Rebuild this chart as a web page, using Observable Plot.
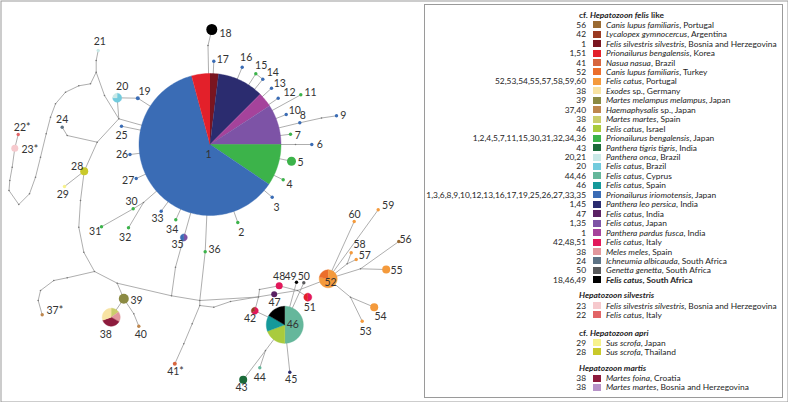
<!DOCTYPE html>
<html><head><meta charset="utf-8">
<script src="https://cdn.jsdelivr.net/npm/d3@7"></script>
<script src="https://cdn.jsdelivr.net/npm/@observablehq/plot@0.6"></script>
<style>
body{margin:0;background:#fff;}
#wrap{position:relative;width:788px;height:402px;font-family:Lato,"Open Sans",sans-serif;}
#legend{position:absolute;left:424px;top:4px;width:359px;height:394px;border:1px solid #9a9a9a;box-sizing:border-box;font-size:8.4px;color:#1e1e1e;background:#fff;}
.t{position:absolute;white-space:nowrap;line-height:10px;height:10px;}
.sw{position:absolute;width:8px;height:7px;}
</style></head>
<body><div id="wrap"><div id="chart"></div><div id="legend"></div></div>
<script>
// ---- legend / host data ----
const legendNums = ["56","42","1","1,51","41","52","52,53,54,55,57,58,59,60","38","39","37,40","38","46","1,2,4,5,7,11,15,30,31,32,34,36","43","20,21","20","44,46","46","1,3,6,8,9,10,12,13,16,17,19,25,26,27,33,35","1,45","47","1,35","1","42,48,51","38","24","50","18,46,49","23","22","29","28","38","38"];
const legendSpecies = ["Canis lupus familiaris","Lycalopex gymnocercus","Felis silvestris silvestris","Prionailurus bengalensis","Nasua nasua","Canis lupus familiaris","Felis catus","Exodes","Martes melampus melampus","Haemaphysalis","Martes martes","Felis catus","Prionailurus bengalensis","Panthera tigris tigris","Panthera onca","Felis catus","Felis catus","Felis catus","Prionailurus iriomotensis","Panthera leo persica","Felis catus","Felis catus","Panthera pardus fusca","Felis catus","Meles meles","Ichneumia albicauda","Genetta genetta","Felis catus","Felis silvestris silvestris","Felis catus","Sus scrofa","Sus scrofa","Martes foina","Martes martes"];
const legendPlace = [", Portugal",", Argentina",", Bosnia and Herzegovina",", Korea",", Brazil",", Turkey",", Portugal"," sp., Germany",", Japan"," sp., Japan",", Spain",", Israel",", Japan",", India",", Brazil",", Brazil",", Cyprus",", Spain",", Japan",", India",", India",", Japan",", India",", Italy",", Spain",", South Africa",", South Africa",", South Africa",", Bosnia and Herzegovina",", Italy",", Japan",", Thailand",", Croatia",", Bosnia and Herzegovina"];
const hostColors = ["#9A6A32","#9A3A22","#7A1520","#E3202A","#D7653D","#EB6E2B","#F49A3C","#F8E3A3","#8B8A43","#BE874E","#CACD6B","#A9CB3D","#3CB34A","#1C6B3A","#C9E9E7","#72CBDD","#65B79B","#15999A","#3A6CB5","#2B2C6F","#5A2163","#7D53A6","#A5439B","#E2185B","#E2979C","#5E7385","#58595B","#000000","#F6C9CD","#E26466","#F7F28C","#C9C92B","#8D1B3D","#B793C9"];
const sectionTitles = [["cf. ","Hepatozoon felis"," like"],["","Hepatozoon silvestris",""],["cf. ","Hepatozoon apri",""],["","Hepatozoon martis",""]];
const boldRows = [27];

// ---- haplotype network data ----
const hapIds   = ["2","3","4","5","6","7","8","9","10","11","12","13","14","15","16","17","18","19","21","22","23","24","25","26","27","28","29","30","31","32","33","34","36","37","39","40","41","43","44","45","47","48","49","50","53","54","55","56","57","58","59","60"];
const hapX     = [237.3,271.7,282.7,291,311.3,290,299.3,336,285.7,300.3,277.7,271,262.3,255.3,241.7,213.3,211.3,137.3,97.7,17.7,14.3,61.7,121,129.5,135.7,83.7,64,132.7,101,128,160.7,175.3,204.7,41.7,123.3,138.3,174.3,242.7,259.3,289.3,273.7,278.7,296,303.3,361.7,373.7,385.7,398.3,355.7,350.7,377.7,353.7];
const hapY     = [222,196.7,179.3,160.7,144,133.7,122.3,115.3,114,94.3,97.7,87.7,78.7,73.3,66.7,60.7,29,97.7,50,134,147.7,126.7,125.7,154,178,170.7,186,208.3,226.3,227.3,210.7,219.3,251.3,314.3,298.3,325.7,363.3,379.3,367.3,371.7,293.7,285.3,281.7,282.3,320.7,306.7,269,241,259,252.3,209.3,221];
const hapSize  = [1.7,1.7,1.7,4.5,1.7,1.7,1.7,1.7,1.7,1.7,1.7,1.7,1.7,1.7,1.7,1.7,5.5,2,1.7,1.7,3.5,1.7,1.7,1.7,1.7,4,1.7,1.7,1.7,1.7,1.7,1.7,1.7,1.7,5,1.7,2,4,1.7,1.7,3,3.5,1.7,1.7,1.7,4,4,1.7,1.7,1.7,1.7,1.7];
const hapHost  = [12,18,12,12,18,12,18,18,18,12,18,18,18,12,18,18,27,18,14,29,28,25,18,18,18,31,30,12,12,12,18,12,12,9,8,9,4,13,16,19,20,23,27,26,6,6,6,0,6,6,6,6];

// mixed haplotypes drawn as pies
const pieIds   = ["1","46","52","38","20","35","42","51"];
const pieX     = [209.5,284.3,327.7,110.7,116.7,183.3,254.3,307.3];
const pieY     = [144,324.3,278.3,316.7,97.3,237,310.3,296.7];
const pieSize  = [71,18.5,9,9,4.5,3.5,3.5,4];
const pieHosts = [[2,19,22,21,12,18,3],[16,11,17,27],[6,5],[10,24,32,7],[15,14],[21,18],[23,1],[23,3]];
const pieShares= [[7,38,12,33,34,221,15],[180,70,50,60],[280,80],[55,65,130,110],[3,1],[1,1],[2,1],[1,1]];

// median vectors / inferred vertices
const medIds = ["m18","m9","m6","J1","c1","J4","J5","c2","a1","a2","a3","a4","a5","a6","a7","a8","V","b3","b2","b1","J2","d1","e1","e2","e3","J6","f1","f2","f3","f4","g1","h1","g2","i1","g3","B1","k1","k2","k3","l1","l2","m30","n1","J7","o1","q1","J10","J11"];
const medX = [207.5,321,295,118.3,104,95.7,90,95.7,78.3,65,55,50,45.7,40,35,29,18.3,8.5,9.3,11.7,96.7,66.7,80,78.3,83.3,94,66.7,53.3,40,37.7,116.7,133.3,171,175,199.3,258,199.3,213.3,230,191.7,183.3,143,259,297,265,346.7,360,350];
const medY = [45,117.5,144,118.3,95,71.7,83.3,60,85.3,91.7,103.3,116.7,133.3,156.7,176.7,193.3,204,190,180,166.7,141.7,135,200,226.7,251.7,271,277.3,280,290,300,282.7,313.3,295.3,266.7,300,296.5,305,306.7,301,323.3,343.3,202,289,290,350,263.3,268.3,296.7];

const edges = [["1","m18"],["m18","18"],["1","17"],["1","16"],["1","15"],["15","14"],["1","14"],["1","13"],["1","12"],["1","11"],["1","10"],["1","8"],["8","m9"],["m9","9"],["1","7"],["1","m6"],["m6","6"],["1","5"],["1","4"],["1","3"],["1","2"],
["1","19"],["19","20"],["20","J1"],["J1","1"],["1","25"],["1","26"],["1","27"],
["1","m30"],["m30","30"],["30","31"],["m30","32"],["1","33"],["1","34"],
["1","35"],["35","i1"],["i1","g2"],["1","36"],["36","g3"],
["J1","c1"],["c1","J4"],["J4","J5"],["J4","c2"],["c2","21"],
["J5","a1"],["a1","a2"],["a2","a3"],["a3","a4"],["a4","a5"],["a5","a6"],["a6","a7"],["a7","a8"],["a8","V"],["V","b3"],["b3","b2"],["b2","b1"],["b1","23"],["23","22"],
["J1","J2"],["J2","d1"],["d1","24"],["J2","28"],["28","29"],["28","e1"],["e1","e2"],["e2","e3"],["e3","J6"],
["J6","f1"],["f1","f2"],["f2","f3"],["f3","f4"],["f4","37"],
["J6","g1"],["g1","39"],["39","38"],["39","h1"],["h1","40"],
["g1","g2"],["g2","g3"],["g3","B1"],["g3","k1"],["k1","k2"],["k2","k3"],["k3","47"],["k1","l1"],["l1","l2"],["l2","41"],
["B1","42"],["42","46"],["B1","n1"],["n1","48"],["48","J7"],["J7","51"],["47","J7"],["J7","52"],
["46","49"],["46","50"],["46","o1"],["o1","43"],["o1","44"],["46","45"],
["52","60"],["52","59"],["52","q1"],["q1","58"],["q1","57"],["52","J10"],["J10","55"],["J10","56"],["52","J11"],["J11","54"],["J11","53"]];

// label offsets from node centre
const labelIds = ["1","2","3","4","5","6","7","8","9","10","11","12","13","14","15","16","17","18","19","20","21","22*","23*","24","25","26","27","28","29","30","31","32","33","34","35","36","37*","38","39","40","41*","42","43","44","45","46","47","48","49","50","51","52","53","54","55","56","57","58","59","60"];
const labelDx = [-1.5,3.4,4.3,6.3,9,8,7.3,3,6.7,8.6,9.7,11.3,8.3,10,5.4,4,9,13.7,6.7,5,1.6,4,15,0,0,-8,-8,-7,-1.7,-1.7,-6.3,-3.3,-3.7,-3.6,-6.3,9.3,12.6,-5.4,12.7,2,0.7,-4.8,-1.7,0,1.4,8,0.3,0,-6,0,2,2.3,3.3,6.3,10.3,6.7,8.6,8.3,10,0.3];
const labelDy = [10,9.7,10.6,5,1.6,0,1,-7.3,0,-4,-2.6,-5.7,-4.4,-6.4,-8,-9.4,-1.4,4.3,-7,-11.3,-9.3,-7.3,1.6,-7.4,9.3,0.5,2,-5,8,-7.6,4.4,9.4,7.3,9.4,7.3,-2.6,-4.3,17.3,2,8,7.7,8,8,9.4,7.6,0,8.6,-9.3,-5.7,-6.3,10,4,10,9.3,1,-2,-3.7,-8,-4.6,-6.7];

// ---- build tables ----
const pos = new Map();
hapIds.forEach((id,i)=>pos.set(id,[hapX[i],hapY[i]]));
pieIds.forEach((id,i)=>pos.set(id,[pieX[i],pieY[i]]));
medIds.forEach((id,i)=>pos.set(id,[medX[i],medY[i]]));
const links = edges.map(([a,b])=>({x1:pos.get(a)[0],y1:pos.get(a)[1],x2:pos.get(b)[0],y2:pos.get(b)[1]}));
const haps = hapIds.map((id,i)=>({id,x:hapX[i],y:hapY[i],r:hapSize[i],fill:hostColors[hapHost[i]]}));
const meds = medIds.map((id,i)=>({id,x:medX[i],y:medY[i]}));
const wedge = [];
pieIds.forEach((id,p)=>{
  const parts = pieHosts[p].map((h,j)=>({h,w:pieShares[p][j]}));
  d3.pie().sort(null).value(d=>d.w)(parts).forEach((a,j)=>{
    const key=id+"_"+j, fill=hostColors[a.data.h], R=pieSize[p];
    wedge.push({key,fill,x:pieX[p],y:pieY[p]});
    const n=Math.max(2,Math.ceil((a.endAngle-a.startAngle)/0.03));
    for(let k=0;k<=n;k++){const t=a.startAngle+(a.endAngle-a.startAngle)*k/n;
      wedge.push({key,fill,x:pieX[p]+R*Math.sin(t),y:pieY[p]-R*Math.cos(t)});}
  });
});
const labels = labelIds.map((t,i)=>{const id=t.replace("*","");const p=pos.get(id);return {t,x:p[0]+labelDx[i],y:p[1]+labelDy[i]};});

const chart = Plot.plot({
  width:788,height:402,margin:0,
  x:{domain:[0,788],range:[0,788],axis:null},
  y:{domain:[0,402],range:[0,402],axis:null},
  r:{type:"linear",domain:[0,100],range:[0,100]},
  color:{type:"identity"},
  style:{fontFamily:"Lato, 'Open Sans', sans-serif",background:"#fff"},
  marks:[
    Plot.frame({stroke:"#9a9a9a",inset:0.5}),
    Plot.link(links,{x1:"x1",y1:"y1",x2:"x2",y2:"y2",stroke:"#939393",strokeWidth:0.75}),
    Plot.dot(meds,{x:"x",y:"y",r:0.8,fill:"#777"}),
    Plot.line(wedge,{x:"x",y:"y",z:"key",fill:"fill",stroke:"fill",strokeWidth:0.4}),
    Plot.dot(haps,{x:"x",y:"y",r:"r",fill:"fill"}),
    Plot.text(labels,{x:"x",y:"y",text:"t",fontSize:10.5,fill:"#333"})
  ]
});
document.getElementById("chart").appendChild(chart);

// ---- legend (HTML overlay) ----
const L = document.getElementById("legend");
const titleY = [10,290.3,328.3,363];
const rowY = [];
for(let i=0;i<28;i++) rowY.push(19.7+i*9.45);
rowY.push(300.7,309.7,337.7,346.7,373.3,382.3);
function el(cls,css,html){const d=document.createElement("div");d.className=cls;Object.assign(d.style,css);if(html!=null)d.innerHTML=html;L.appendChild(d);return d;}
sectionTitles.forEach((t,s)=>{
  el("t",{left:"154px",top:(titleY[s]-5)+"px",fontWeight:"bold"},t[0]+"<i>"+t[1]+"</i>"+t[2]);
});
legendNums.forEach((n,i)=>{
  const y=rowY[i];
  el("t",{right:(359-163)+"px",top:(y-5)+"px",textAlign:"right"},n);
  el("sw",{left:"168px",top:(y-3.5)+"px",background:hostColors[i]});
  const b=boldRows.includes(i);
  el("t",{left:"181px",top:(y-5)+"px",fontWeight:b?"bold":"normal"},"<i>"+legendSpecies[i]+"</i>"+legendPlace[i]);
});
</script></body></html>
